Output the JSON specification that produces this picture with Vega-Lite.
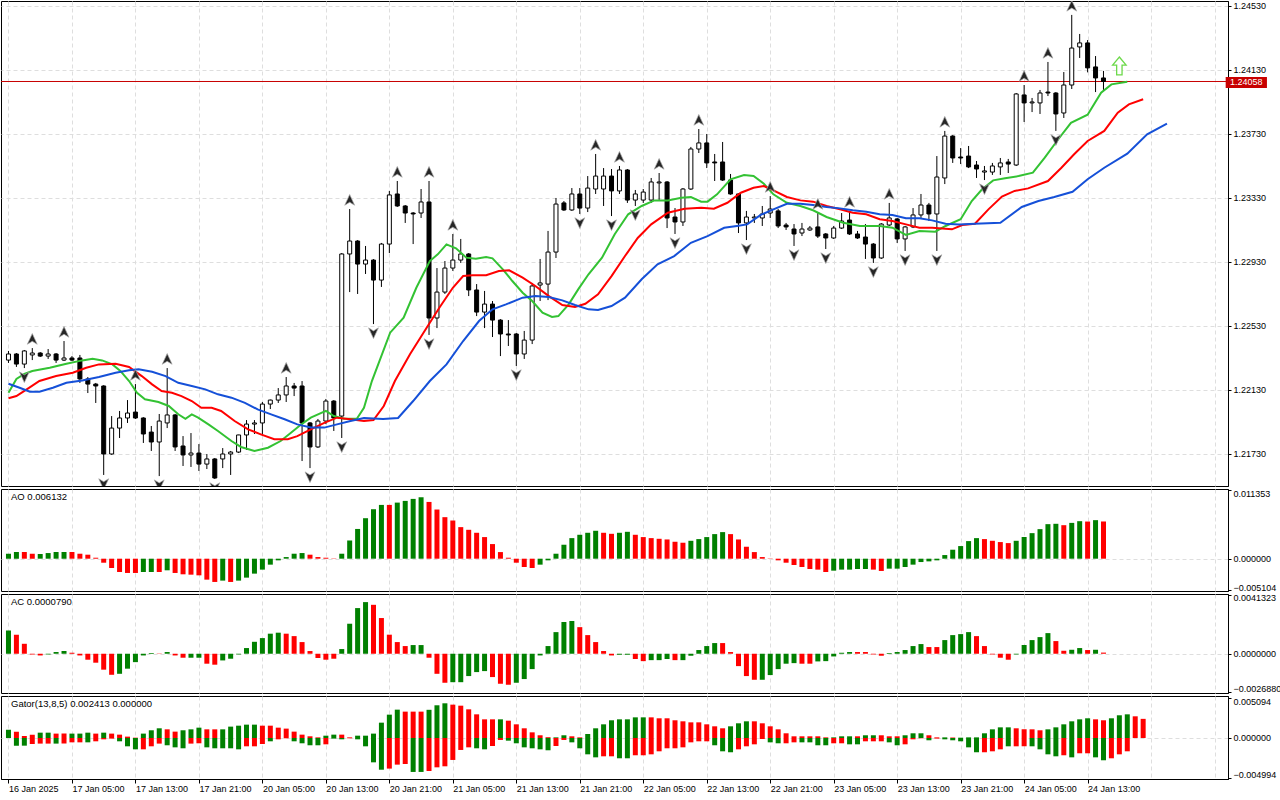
{
  "$schema": "https://vega.github.io/schema/vega-lite/v6.json",
  "padding": 0,
  "background": "white",
  "bounds": "flush",
  "spacing": 3,
  "resolve": {"scale": {"color": "independent"}},
  "config": {
    "font": "Liberation Sans",
    "view": {"stroke": "black", "strokeWidth": 1},
    "axis": {"domainColor": "black", "tickColor": "black", "labelColor": "black", "labelFont": "Liberation Sans", "labelFontSize": 9, "gridColor": "#dedede", "gridDash": [4, 3], "title": null, "tickSize": 3, "labelPadding": 2},
    "text": {"font": "Liberation Sans", "fontSize": 9.5, "color": "black"}
  },
  "datasets": {
    "bars": [
      {"i":0,"o":1.22317,"h":1.22374,"l":1.22299,"c":1.22355},
      {"i":1,"o":1.22355,"h":1.22361,"l":1.22274,"c":1.22292},
      {"i":2,"o":1.22292,"h":1.22380,"l":1.22267,"c":1.22374,"d":1},
      {"i":3,"o":1.22349,"h":1.22392,"l":1.22317,"c":1.22361,"u":1},
      {"i":4,"o":1.22361,"h":1.22367,"l":1.22336,"c":1.22342},
      {"i":5,"o":1.22342,"h":1.22386,"l":1.22324,"c":1.22355},
      {"i":6,"o":1.22355,"h":1.22361,"l":1.22299,"c":1.22317},
      {"i":7,"o":1.22317,"h":1.22436,"l":1.22311,"c":1.22330,"u":1},
      {"i":8,"o":1.22330,"h":1.22342,"l":1.22311,"c":1.22317},
      {"i":9,"o":1.22330,"h":1.22349,"l":1.22174,"c":1.22199},
      {"i":10,"o":1.22199,"h":1.22211,"l":1.22111,"c":1.22167},
      {"i":11,"o":1.22167,"h":1.22174,"l":1.22049,"c":1.22155},
      {"i":12,"o":1.22155,"h":1.22160,"l":1.21599,"c":1.21730,"d":1},
      {"i":13,"o":1.21730,"h":1.21967,"l":1.21725,"c":1.21892},
      {"i":14,"o":1.21892,"h":1.21999,"l":1.21830,"c":1.21955},
      {"i":15,"o":1.21955,"h":1.22067,"l":1.21924,"c":1.21986},
      {"i":16,"o":1.21992,"h":1.22167,"l":1.21949,"c":1.21955,"u":1},
      {"i":17,"o":1.21955,"h":1.21960,"l":1.21799,"c":1.21855},
      {"i":18,"o":1.21867,"h":1.21905,"l":1.21749,"c":1.21805},
      {"i":19,"o":1.21805,"h":1.21980,"l":1.21592,"c":1.21936,"d":1},
      {"i":20,"o":1.21924,"h":1.22267,"l":1.21892,"c":1.21974,"u":1},
      {"i":21,"o":1.21974,"h":1.21980,"l":1.21749,"c":1.21774},
      {"i":22,"o":1.21780,"h":1.21842,"l":1.21655,"c":1.21724},
      {"i":23,"o":1.21724,"h":1.21861,"l":1.21649,"c":1.21736},
      {"i":24,"o":1.21736,"h":1.21792,"l":1.21624,"c":1.21667},
      {"i":25,"o":1.21667,"h":1.21730,"l":1.21636,"c":1.21699},
      {"i":26,"o":1.21699,"h":1.21705,"l":1.21574,"c":1.21580,"d":1},
      {"i":27,"o":1.21699,"h":1.21767,"l":1.21642,"c":1.21730},
      {"i":28,"o":1.21730,"h":1.21749,"l":1.21599,"c":1.21742},
      {"i":29,"o":1.21742,"h":1.21850,"l":1.21736,"c":1.21849},
      {"i":30,"o":1.21849,"h":1.21942,"l":1.21755,"c":1.21917},
      {"i":31,"o":1.21917,"h":1.21942,"l":1.21855,"c":1.21924},
      {"i":32,"o":1.21924,"h":1.22055,"l":1.21855,"c":1.22042},
      {"i":33,"o":1.22042,"h":1.22070,"l":1.22011,"c":1.22067},
      {"i":34,"o":1.22067,"h":1.22142,"l":1.22049,"c":1.22099},
      {"i":35,"o":1.22099,"h":1.22211,"l":1.22055,"c":1.22155,"u":1},
      {"i":36,"o":1.22155,"h":1.22174,"l":1.22092,"c":1.22142},
      {"i":37,"o":1.22155,"h":1.22186,"l":1.21686,"c":1.21924},
      {"i":38,"o":1.21924,"h":1.21930,"l":1.21642,"c":1.21774,"d":1},
      {"i":39,"o":1.21774,"h":1.21949,"l":1.21768,"c":1.21936},
      {"i":40,"o":1.21936,"h":1.22074,"l":1.21917,"c":1.22061},
      {"i":41,"o":1.22061,"h":1.22067,"l":1.21874,"c":1.21955},
      {"i":42,"o":1.21967,"h":1.22986,"l":1.21830,"c":1.22980,"d":1},
      {"i":43,"o":1.22980,"h":1.23261,"l":1.22742,"c":1.23061,"u":1},
      {"i":44,"o":1.23061,"h":1.23067,"l":1.22730,"c":1.22917},
      {"i":45,"o":1.22917,"h":1.23030,"l":1.22855,"c":1.22942},
      {"i":46,"o":1.22942,"h":1.22948,"l":1.22542,"c":1.22817,"d":1},
      {"i":47,"o":1.22817,"h":1.23049,"l":1.22774,"c":1.23042},
      {"i":48,"o":1.23042,"h":1.23374,"l":1.22986,"c":1.23349},
      {"i":49,"o":1.23355,"h":1.23436,"l":1.23274,"c":1.23280,"u":1},
      {"i":50,"o":1.23280,"h":1.23286,"l":1.23174,"c":1.23236},
      {"i":51,"o":1.23236,"h":1.23242,"l":1.23042,"c":1.23230},
      {"i":52,"o":1.23236,"h":1.23386,"l":1.23205,"c":1.23305},
      {"i":53,"o":1.23305,"h":1.23436,"l":1.22474,"c":1.22580,"u":1,"d":1},
      {"i":54,"o":1.22580,"h":1.22892,"l":1.22517,"c":1.22742},
      {"i":55,"o":1.22742,"h":1.22936,"l":1.22730,"c":1.22892},
      {"i":56,"o":1.22892,"h":1.23105,"l":1.22874,"c":1.22942,"u":1},
      {"i":57,"o":1.22942,"h":1.23074,"l":1.22924,"c":1.22980},
      {"i":58,"o":1.22980,"h":1.22986,"l":1.22717,"c":1.22755},
      {"i":59,"o":1.22755,"h":1.22792,"l":1.22592,"c":1.22617},
      {"i":60,"o":1.22617,"h":1.22749,"l":1.22517,"c":1.22667},
      {"i":61,"o":1.22667,"h":1.22686,"l":1.22461,"c":1.22567},
      {"i":62,"o":1.22567,"h":1.22573,"l":1.22342,"c":1.22480},
      {"i":63,"o":1.22480,"h":1.22567,"l":1.22405,"c":1.22474},
      {"i":64,"o":1.22480,"h":1.22486,"l":1.22280,"c":1.22355,"d":1},
      {"i":65,"o":1.22355,"h":1.22499,"l":1.22324,"c":1.22442},
      {"i":66,"o":1.22442,"h":1.22799,"l":1.22417,"c":1.22780},
      {"i":67,"o":1.22786,"h":1.22949,"l":1.22686,"c":1.22799},
      {"i":68,"o":1.22792,"h":1.23124,"l":1.22692,"c":1.22992},
      {"i":69,"o":1.22992,"h":1.23330,"l":1.22955,"c":1.23292},
      {"i":70,"o":1.23299,"h":1.23311,"l":1.23249,"c":1.23255},
      {"i":71,"o":1.23255,"h":1.23392,"l":1.23249,"c":1.23355},
      {"i":72,"o":1.23355,"h":1.23392,"l":1.23230,"c":1.23267,"d":1},
      {"i":73,"o":1.23267,"h":1.23467,"l":1.23242,"c":1.23392},
      {"i":74,"o":1.23386,"h":1.23605,"l":1.23355,"c":1.23467,"u":1},
      {"i":75,"o":1.23386,"h":1.23517,"l":1.23280,"c":1.23467},
      {"i":76,"o":1.23467,"h":1.23511,"l":1.23217,"c":1.23374,"d":1},
      {"i":77,"o":1.23374,"h":1.23530,"l":1.23355,"c":1.23505,"u":1},
      {"i":78,"o":1.23505,"h":1.23511,"l":1.23299,"c":1.23317},
      {"i":79,"o":1.23317,"h":1.23380,"l":1.23280,"c":1.23355,"d":1},
      {"i":80,"o":1.23317,"h":1.23386,"l":1.23299,"c":1.23367},
      {"i":81,"o":1.23317,"h":1.23455,"l":1.23299,"c":1.23430},
      {"i":82,"o":1.23424,"h":1.23486,"l":1.23311,"c":1.23430,"u":1},
      {"i":83,"o":1.23430,"h":1.23436,"l":1.23142,"c":1.23205},
      {"i":84,"o":1.23211,"h":1.23267,"l":1.23105,"c":1.23180,"d":1},
      {"i":85,"o":1.23180,"h":1.23392,"l":1.23155,"c":1.23386},
      {"i":86,"o":1.23386,"h":1.23649,"l":1.23380,"c":1.23636},
      {"i":87,"o":1.23636,"h":1.23761,"l":1.23611,"c":1.23674,"u":1},
      {"i":88,"o":1.23674,"h":1.23730,"l":1.23517,"c":1.23549},
      {"i":89,"o":1.23555,"h":1.23605,"l":1.23436,"c":1.23549},
      {"i":90,"o":1.23555,"h":1.23680,"l":1.23436,"c":1.23442},
      {"i":91,"o":1.23442,"h":1.23480,"l":1.23350,"c":1.23355},
      {"i":92,"o":1.23355,"h":1.23361,"l":1.23111,"c":1.23174},
      {"i":93,"o":1.23174,"h":1.23249,"l":1.23067,"c":1.23211,"d":1},
      {"i":94,"o":1.23205,"h":1.23230,"l":1.23174,"c":1.23211},
      {"i":95,"o":1.23205,"h":1.23280,"l":1.23155,"c":1.23230},
      {"i":96,"o":1.23236,"h":1.23342,"l":1.23205,"c":1.23261,"u":1},
      {"i":97,"o":1.23249,"h":1.23261,"l":1.23142,"c":1.23155},
      {"i":98,"o":1.23161,"h":1.23174,"l":1.23130,"c":1.23149},
      {"i":99,"o":1.23136,"h":1.23167,"l":1.23030,"c":1.23105,"d":1},
      {"i":100,"o":1.23111,"h":1.23174,"l":1.23092,"c":1.23136},
      {"i":101,"o":1.23130,"h":1.23155,"l":1.23124,"c":1.23142},
      {"i":102,"o":1.23149,"h":1.23236,"l":1.23080,"c":1.23092,"u":1},
      {"i":103,"o":1.23105,"h":1.23111,"l":1.23011,"c":1.23080,"d":1},
      {"i":104,"o":1.23080,"h":1.23155,"l":1.23074,"c":1.23142},
      {"i":105,"o":1.23142,"h":1.23236,"l":1.23136,"c":1.23186},
      {"i":106,"o":1.23192,"h":1.23249,"l":1.23099,"c":1.23105,"u":1},
      {"i":107,"o":1.23105,"h":1.23124,"l":1.23074,"c":1.23080},
      {"i":108,"o":1.23086,"h":1.23167,"l":1.22949,"c":1.23042},
      {"i":109,"o":1.23042,"h":1.23048,"l":1.22924,"c":1.22955,"d":1},
      {"i":110,"o":1.22955,"h":1.23173,"l":1.22949,"c":1.23167},
      {"i":111,"o":1.23161,"h":1.23299,"l":1.23155,"c":1.23205,"u":1},
      {"i":112,"o":1.23199,"h":1.23205,"l":1.23049,"c":1.23074},
      {"i":113,"o":1.23074,"h":1.23155,"l":1.22999,"c":1.23149,"d":1},
      {"i":114,"o":1.23149,"h":1.23267,"l":1.23142,"c":1.23224},
      {"i":115,"o":1.23224,"h":1.23355,"l":1.23205,"c":1.23286},
      {"i":116,"o":1.23286,"h":1.23299,"l":1.23186,"c":1.23230},
      {"i":117,"o":1.23230,"h":1.23592,"l":1.22999,"c":1.23461,"d":1},
      {"i":118,"o":1.23455,"h":1.23749,"l":1.23417,"c":1.23717,"u":1},
      {"i":119,"o":1.23717,"h":1.23723,"l":1.23549,"c":1.23580},
      {"i":120,"o":1.23586,"h":1.23642,"l":1.23542,"c":1.23580},
      {"i":121,"o":1.23592,"h":1.23655,"l":1.23517,"c":1.23524},
      {"i":122,"o":1.23536,"h":1.23561,"l":1.23455,"c":1.23511},
      {"i":123,"o":1.23492,"h":1.23530,"l":1.23442,"c":1.23499,"d":1},
      {"i":124,"o":1.23492,"h":1.23549,"l":1.23474,"c":1.23530},
      {"i":125,"o":1.23524,"h":1.23580,"l":1.23474,"c":1.23549},
      {"i":126,"o":1.23555,"h":1.23574,"l":1.23486,"c":1.23542},
      {"i":127,"o":1.23536,"h":1.23986,"l":1.23530,"c":1.23980},
      {"i":128,"o":1.23974,"h":1.24036,"l":1.23805,"c":1.23924,"u":1},
      {"i":129,"o":1.23924,"h":1.23955,"l":1.23867,"c":1.23930},
      {"i":130,"o":1.23924,"h":1.24005,"l":1.23855,"c":1.23986},
      {"i":131,"o":1.23992,"h":1.24180,"l":1.23967,"c":1.23986,"u":1},
      {"i":132,"o":1.23986,"h":1.23992,"l":1.23749,"c":1.23855,"d":1},
      {"i":133,"o":1.23861,"h":1.24117,"l":1.23830,"c":1.24036},
      {"i":134,"o":1.24036,"h":1.24474,"l":1.24011,"c":1.24267,"u":1},
      {"i":135,"o":1.24274,"h":1.24355,"l":1.24205,"c":1.24299},
      {"i":136,"o":1.24299,"h":1.24317,"l":1.24115,"c":1.24143},
      {"i":137,"o":1.24149,"h":1.24217,"l":1.23992,"c":1.24080},
      {"i":138,"o":1.24080,"h":1.24124,"l":1.24005,"c":1.24058}
    ],
    "alligator": [
      {"i":0,"s":"lips","v":1.22113},{"i":1,"s":"lips","v":1.22199},{"i":2,"s":"lips","v":1.2223},{"i":3,"s":"lips","v":1.22249},{"i":5.2,"s":"lips","v":1.22269},{"i":7.3,"s":"lips","v":1.22294},{"i":9.3,"s":"lips","v":1.22315},{"i":10.6,"s":"lips","v":1.22325},{"i":11.8,"s":"lips","v":1.22315},{"i":13.1,"s":"lips","v":1.2229},{"i":14.1,"s":"lips","v":1.22249},{"i":15.2,"s":"lips","v":1.22186},{"i":16.2,"s":"lips","v":1.22113},{"i":17.2,"s":"lips","v":1.22072},{"i":18.9,"s":"lips","v":1.22055},{"i":20.2,"s":"lips","v":1.2203},{"i":21.4,"s":"lips","v":1.21978},{"i":22.3,"s":"lips","v":1.2195},{"i":23.1,"s":"lips","v":1.21978},{"i":23.9,"s":"lips","v":1.21957},{"i":25.2,"s":"lips","v":1.21915},{"i":26.4,"s":"lips","v":1.21874},{"i":28.1,"s":"lips","v":1.21811},{"i":29.3,"s":"lips","v":1.21774},{"i":31,"s":"lips","v":1.21749},{"i":32.7,"s":"lips","v":1.21769},{"i":34.3,"s":"lips","v":1.21811},{"i":35.6,"s":"lips","v":1.21863},{"i":36.8,"s":"lips","v":1.21911},{"i":38.1,"s":"lips","v":1.21957},{"i":40,"s":"lips","v":1.21999},{"i":41,"s":"lips","v":1.21967},{"i":42.3,"s":"lips","v":1.2195},{"i":43.9,"s":"lips","v":1.2195},{"i":44.8,"s":"lips","v":1.22019},{"i":45.8,"s":"lips","v":1.22186},{"i":48.1,"s":"lips","v":1.22488},{"i":49.8,"s":"lips","v":1.22582},{"i":51.4,"s":"lips","v":1.22769},{"i":53.1,"s":"lips","v":1.22936},{"i":54.1,"s":"lips","v":1.22978},{"i":55.2,"s":"lips","v":1.2304},{"i":56.4,"s":"lips","v":1.23015},{"i":57.7,"s":"lips","v":1.22957},{"i":58.9,"s":"lips","v":1.2295},{"i":60.2,"s":"lips","v":1.22961},{"i":61,"s":"lips","v":1.22953},{"i":62.3,"s":"lips","v":1.22884},{"i":63.5,"s":"lips","v":1.22811},{"i":64.8,"s":"lips","v":1.22738},{"i":66,"s":"lips","v":1.22686},{"i":67.3,"s":"lips","v":1.22613},{"i":68.5,"s":"lips","v":1.22586},{"i":69.3,"s":"lips","v":1.22592},{"i":70.6,"s":"lips","v":1.22665},{"i":71.8,"s":"lips","v":1.22759},{"i":73.1,"s":"lips","v":1.22853},{"i":74.8,"s":"lips","v":1.22957},{"i":76.4,"s":"lips","v":1.23103},{"i":78.1,"s":"lips","v":1.23228},{"i":79.8,"s":"lips","v":1.2328},{"i":81.4,"s":"lips","v":1.23315},{"i":83.1,"s":"lips","v":1.23315},{"i":84.8,"s":"lips","v":1.23332},{"i":86,"s":"lips","v":1.23336},{"i":87.3,"s":"lips","v":1.23307},{"i":88.1,"s":"lips","v":1.23307},{"i":89.3,"s":"lips","v":1.23353},{"i":91,"s":"lips","v":1.23447},{"i":92.7,"s":"lips","v":1.23474},{"i":93.9,"s":"lips","v":1.23467},{"i":95.2,"s":"lips","v":1.23419},{"i":96.4,"s":"lips","v":1.23353},{"i":98.1,"s":"lips","v":1.233},{"i":99.8,"s":"lips","v":1.2328},{"i":101.4,"s":"lips","v":1.23253},{"i":103.1,"s":"lips","v":1.23211},{"i":105.2,"s":"lips","v":1.23175},{"i":107.3,"s":"lips","v":1.23155},{"i":109.8,"s":"lips","v":1.23155},{"i":111.4,"s":"lips","v":1.23144},{"i":113.1,"s":"lips","v":1.23099},{"i":114.8,"s":"lips","v":1.23124},{"i":116.8,"s":"lips","v":1.23119},{"i":118.1,"s":"lips","v":1.23155},{"i":120,"s":"lips","v":1.23197},{"i":121.4,"s":"lips","v":1.23311},{"i":122.7,"s":"lips","v":1.23384},{"i":124.1,"s":"lips","v":1.2344},{"i":125.6,"s":"lips","v":1.23453},{"i":127.3,"s":"lips","v":1.23467},{"i":129.1,"s":"lips","v":1.23488},{"i":130.6,"s":"lips","v":1.23582},{"i":132.3,"s":"lips","v":1.23697},{"i":133.9,"s":"lips","v":1.238},{"i":136,"s":"lips","v":1.2385},{"i":137.7,"s":"lips","v":1.23988},{"i":139,"s":"lips","v":1.2404},{"i":141,"s":"lips","v":1.24057},
      {"i":0,"s":"teeth","v":1.22078},{"i":1,"s":"teeth","v":1.22092},{"i":2.3,"s":"teeth","v":1.22134},{"i":3.9,"s":"teeth","v":1.22186},{"i":6,"s":"teeth","v":1.22217},{"i":8.1,"s":"teeth","v":1.22238},{"i":9.8,"s":"teeth","v":1.22269},{"i":11.4,"s":"teeth","v":1.2229},{"i":13.5,"s":"teeth","v":1.22294},{"i":15.2,"s":"teeth","v":1.22274},{"i":16.8,"s":"teeth","v":1.22217},{"i":18.1,"s":"teeth","v":1.22165},{"i":19.3,"s":"teeth","v":1.22124},{"i":20.6,"s":"teeth","v":1.22113},{"i":21.8,"s":"teeth","v":1.22092},{"i":23.1,"s":"teeth","v":1.22061},{"i":24.3,"s":"teeth","v":1.22019},{"i":25.6,"s":"teeth","v":1.22019},{"i":26.8,"s":"teeth","v":1.21999},{"i":28.5,"s":"teeth","v":1.21936},{"i":30.2,"s":"teeth","v":1.21884},{"i":31.8,"s":"teeth","v":1.21853},{"i":33.5,"s":"teeth","v":1.21822},{"i":35.2,"s":"teeth","v":1.21822},{"i":36.4,"s":"teeth","v":1.21842},{"i":38.1,"s":"teeth","v":1.21884},{"i":39.8,"s":"teeth","v":1.21925},{"i":41.4,"s":"teeth","v":1.21957},{"i":43.1,"s":"teeth","v":1.21947},{"i":44.8,"s":"teeth","v":1.21936},{"i":46,"s":"teeth","v":1.21942},{"i":47.3,"s":"teeth","v":1.2203},{"i":48.7,"s":"teeth","v":1.22186},{"i":50.6,"s":"teeth","v":1.22353},{"i":52.7,"s":"teeth","v":1.22519},{"i":54.3,"s":"teeth","v":1.22644},{"i":56,"s":"teeth","v":1.22769},{"i":57.3,"s":"teeth","v":1.22842},{"i":58.5,"s":"teeth","v":1.22847},{"i":60.2,"s":"teeth","v":1.22847},{"i":61.8,"s":"teeth","v":1.22874},{"i":63.1,"s":"teeth","v":1.22878},{"i":64.8,"s":"teeth","v":1.22832},{"i":66.4,"s":"teeth","v":1.2278},{"i":68.1,"s":"teeth","v":1.22717},{"i":69.8,"s":"teeth","v":1.22661},{"i":71.4,"s":"teeth","v":1.22649},{"i":72.7,"s":"teeth","v":1.22669},{"i":74.3,"s":"teeth","v":1.22728},{"i":76,"s":"teeth","v":1.22842},{"i":77.7,"s":"teeth","v":1.22967},{"i":79.3,"s":"teeth","v":1.2308},{"i":81,"s":"teeth","v":1.23165},{"i":83.1,"s":"teeth","v":1.23238},{"i":85.2,"s":"teeth","v":1.23263},{"i":87.3,"s":"teeth","v":1.23269},{"i":88.9,"s":"teeth","v":1.23263},{"i":90.6,"s":"teeth","v":1.233},{"i":92.3,"s":"teeth","v":1.23363},{"i":93.9,"s":"teeth","v":1.23394},{"i":95.2,"s":"teeth","v":1.23405},{"i":96.4,"s":"teeth","v":1.23378},{"i":98.1,"s":"teeth","v":1.23336},{"i":99.8,"s":"teeth","v":1.23315},{"i":101.4,"s":"teeth","v":1.23307},{"i":103.1,"s":"teeth","v":1.2328},{"i":104.8,"s":"teeth","v":1.23259},{"i":106.4,"s":"teeth","v":1.23238},{"i":108.1,"s":"teeth","v":1.23228},{"i":109.8,"s":"teeth","v":1.23197},{"i":111.4,"s":"teeth","v":1.23186},{"i":113.1,"s":"teeth","v":1.23165},{"i":114.8,"s":"teeth","v":1.23144},{"i":116.4,"s":"teeth","v":1.23144},{"i":118.9,"s":"teeth","v":1.23134},{"i":120.2,"s":"teeth","v":1.23161},{"i":121.8,"s":"teeth","v":1.23169},{"i":123.5,"s":"teeth","v":1.23259},{"i":125.2,"s":"teeth","v":1.23339},{"i":126.8,"s":"teeth","v":1.23374},{"i":128.5,"s":"teeth","v":1.2339},{"i":131,"s":"teeth","v":1.23436},{"i":132.7,"s":"teeth","v":1.23519},{"i":134.3,"s":"teeth","v":1.23603},{"i":136,"s":"teeth","v":1.23686},{"i":138.1,"s":"teeth","v":1.23749},{"i":139.8,"s":"teeth","v":1.23863},{"i":141.2,"s":"teeth","v":1.23915},{"i":143,"s":"teeth","v":1.23947},
      {"i":0,"s":"jaw","v":1.22169},{"i":1.4,"s":"jaw","v":1.22144},{"i":2.7,"s":"jaw","v":1.22119},{"i":3.9,"s":"jaw","v":1.22119},{"i":5.6,"s":"jaw","v":1.22144},{"i":7.3,"s":"jaw","v":1.22175},{"i":9.3,"s":"jaw","v":1.2219},{"i":11.4,"s":"jaw","v":1.22211},{"i":13.5,"s":"jaw","v":1.22238},{"i":15.2,"s":"jaw","v":1.22253},{"i":16.4,"s":"jaw","v":1.22259},{"i":18.1,"s":"jaw","v":1.22244},{"i":19.8,"s":"jaw","v":1.22217},{"i":21.4,"s":"jaw","v":1.22175},{"i":23.1,"s":"jaw","v":1.22155},{"i":24.8,"s":"jaw","v":1.22134},{"i":26.4,"s":"jaw","v":1.22103},{"i":28.1,"s":"jaw","v":1.22082},{"i":29.8,"s":"jaw","v":1.2205},{"i":31.4,"s":"jaw","v":1.22009},{"i":33.1,"s":"jaw","v":1.21978},{"i":34.8,"s":"jaw","v":1.21947},{"i":36.4,"s":"jaw","v":1.21915},{"i":38.1,"s":"jaw","v":1.21895},{"i":39.8,"s":"jaw","v":1.21895},{"i":41.4,"s":"jaw","v":1.21915},{"i":43.1,"s":"jaw","v":1.21936},{"i":44.8,"s":"jaw","v":1.21955},{"i":47.2,"s":"jaw","v":1.21949},{"i":49.1,"s":"jaw","v":1.21955},{"i":51,"s":"jaw","v":1.22061},{"i":53.1,"s":"jaw","v":1.22186},{"i":55.2,"s":"jaw","v":1.2229},{"i":57.3,"s":"jaw","v":1.22436},{"i":59.3,"s":"jaw","v":1.22561},{"i":61,"s":"jaw","v":1.22634},{"i":62.7,"s":"jaw","v":1.22665},{"i":64.8,"s":"jaw","v":1.22707},{"i":66.4,"s":"jaw","v":1.22717},{"i":68.1,"s":"jaw","v":1.22711},{"i":69.8,"s":"jaw","v":1.2269},{"i":71.4,"s":"jaw","v":1.22661},{"i":73.1,"s":"jaw","v":1.22634},{"i":74.3,"s":"jaw","v":1.2263},{"i":76,"s":"jaw","v":1.22655},{"i":77.7,"s":"jaw","v":1.22707},{"i":79.8,"s":"jaw","v":1.22822},{"i":81.8,"s":"jaw","v":1.22915},{"i":83.9,"s":"jaw","v":1.22967},{"i":86,"s":"jaw","v":1.2305},{"i":88.1,"s":"jaw","v":1.23092},{"i":90.2,"s":"jaw","v":1.23144},{"i":91.8,"s":"jaw","v":1.23155},{"i":93.1,"s":"jaw","v":1.23165},{"i":94.8,"s":"jaw","v":1.23224},{"i":96.4,"s":"jaw","v":1.23259},{"i":98.1,"s":"jaw","v":1.23294},{"i":99.8,"s":"jaw","v":1.23294},{"i":101.4,"s":"jaw","v":1.23286},{"i":103.1,"s":"jaw","v":1.23274},{"i":104.8,"s":"jaw","v":1.23265},{"i":106.4,"s":"jaw","v":1.23253},{"i":108.1,"s":"jaw","v":1.23244},{"i":109.8,"s":"jaw","v":1.23228},{"i":111.4,"s":"jaw","v":1.23224},{"i":113.1,"s":"jaw","v":1.23203},{"i":114.8,"s":"jaw","v":1.23203},{"i":116.4,"s":"jaw","v":1.2319},{"i":118.1,"s":"jaw","v":1.23169},{"i":119.8,"s":"jaw","v":1.23165},{"i":121.8,"s":"jaw","v":1.23169},{"i":125,"s":"jaw","v":1.23175},{"i":127.7,"s":"jaw","v":1.23274},{"i":129.8,"s":"jaw","v":1.23311},{"i":131.8,"s":"jaw","v":1.23336},{"i":134.1,"s":"jaw","v":1.23369},{"i":136,"s":"jaw","v":1.23447},{"i":138.1,"s":"jaw","v":1.23519},{"i":141,"s":"jaw","v":1.23607},{"i":143.5,"s":"jaw","v":1.23728},{"i":146,"s":"jaw","v":1.23794}
    ],
    "ao": [
      {"i":0,"v":0.00082,"c":"g"},{"i":1,"v":0.0011,"c":"g"},{"i":2,"v":0.0011,"c":"r"},{"i":3,"v":0.00082,"c":"r"},{"i":4,"v":0.00077,"c":"g"},{"i":5,"v":0.00093,"c":"g"},{"i":6,"v":0.0011,"c":"g"},{"i":7,"v":0.0011,"c":"g"},{"i":8,"v":0.0011,"c":"r"},{"i":9,"v":0.00082,"c":"r"},{"i":10,"v":0.00066,"c":"r"},{"i":11,"v":0.00016,"c":"r"},{"i":12,"v":-0.00066,"c":"r"},{"i":13,"v":-0.00153,"c":"r"},{"i":14,"v":-0.00219,"c":"r"},{"i":15,"v":-0.00235,"c":"r"},{"i":16,"v":-0.00235,"c":"r"},{"i":17,"v":-0.00219,"c":"g"},{"i":18,"v":-0.00219,"c":"g"},{"i":19,"v":-0.00219,"c":"r"},{"i":20,"v":-0.00191,"c":"g"},{"i":21,"v":-0.00235,"c":"r"},{"i":22,"v":-0.00257,"c":"r"},{"i":23,"v":-0.00263,"c":"r"},{"i":24,"v":-0.00274,"c":"r"},{"i":25,"v":-0.00345,"c":"r"},{"i":26,"v":-0.00383,"c":"r"},{"i":27,"v":-0.00361,"c":"g"},{"i":28,"v":-0.00383,"c":"r"},{"i":29,"v":-0.00361,"c":"g"},{"i":30,"v":-0.00312,"c":"g"},{"i":31,"v":-0.00246,"c":"g"},{"i":32,"v":-0.0018,"c":"g"},{"i":33,"v":-0.00098,"c":"g"},{"i":34,"v":-0.00027,"c":"g"},{"i":35,"v":0.00027,"c":"g"},{"i":36,"v":0.00082,"c":"g"},{"i":37,"v":0.00093,"c":"g"},{"i":38,"v":0.00066,"c":"r"},{"i":39,"v":0.00027,"c":"r"},{"i":40,"v":0.00016,"c":"r"},{"i":41,"v":0.00005,"c":"r"},{"i":42,"v":0.00082,"c":"g"},{"i":43,"v":0.003,"c":"g"},{"i":44,"v":0.0049,"c":"g"},{"i":45,"v":0.00667,"c":"g"},{"i":46,"v":0.00815,"c":"g"},{"i":47,"v":0.00886,"c":"g"},{"i":48,"v":0.00886,"c":"r"},{"i":49,"v":0.00924,"c":"g"},{"i":50,"v":0.00952,"c":"g"},{"i":51,"v":0.00985,"c":"g"},{"i":52,"v":0.01012,"c":"g"},{"i":53,"v":0.00935,"c":"r"},{"i":54,"v":0.0081,"c":"r"},{"i":55,"v":0.00684,"c":"r"},{"i":56,"v":0.00629,"c":"r"},{"i":57,"v":0.0052,"c":"r"},{"i":58,"v":0.00476,"c":"r"},{"i":59,"v":0.00427,"c":"r"},{"i":60,"v":0.00356,"c":"r"},{"i":61,"v":0.00241,"c":"r"},{"i":62,"v":0.00109,"c":"r"},{"i":63,"v":0.00016,"c":"r"},{"i":64,"v":-0.00066,"c":"r"},{"i":65,"v":-0.00137,"c":"r"},{"i":66,"v":-0.00153,"c":"r"},{"i":67,"v":-0.00098,"c":"g"},{"i":68,"v":-0.00027,"c":"g"},{"i":69,"v":0.00082,"c":"g"},{"i":70,"v":0.0023,"c":"g"},{"i":71,"v":0.00339,"c":"g"},{"i":72,"v":0.00394,"c":"g"},{"i":73,"v":0.00427,"c":"g"},{"i":74,"v":0.0046,"c":"g"},{"i":75,"v":0.00427,"c":"r"},{"i":76,"v":0.0041,"c":"r"},{"i":77,"v":0.00427,"c":"g"},{"i":78,"v":0.00443,"c":"g"},{"i":79,"v":0.00394,"c":"r"},{"i":80,"v":0.00356,"c":"r"},{"i":81,"v":0.00339,"c":"r"},{"i":82,"v":0.00328,"c":"r"},{"i":83,"v":0.00317,"c":"r"},{"i":84,"v":0.00279,"c":"r"},{"i":85,"v":0.00263,"c":"r"},{"i":86,"v":0.00295,"c":"g"},{"i":87,"v":0.00323,"c":"g"},{"i":88,"v":0.00356,"c":"g"},{"i":89,"v":0.00405,"c":"g"},{"i":90,"v":0.00438,"c":"g"},{"i":91,"v":0.00405,"c":"r"},{"i":92,"v":0.00317,"c":"r"},{"i":93,"v":0.00197,"c":"r"},{"i":94,"v":0.00109,"c":"r"},{"i":95,"v":0.00027,"c":"r"},{"i":96,"v":-0.00005,"c":"r"},{"i":97,"v":-0.00027,"c":"r"},{"i":98,"v":-0.00066,"c":"r"},{"i":99,"v":-0.00104,"c":"r"},{"i":100,"v":-0.00137,"c":"r"},{"i":101,"v":-0.0017,"c":"r"},{"i":102,"v":-0.0018,"c":"r"},{"i":103,"v":-0.00219,"c":"r"},{"i":104,"v":-0.00197,"c":"g"},{"i":105,"v":-0.0018,"c":"g"},{"i":106,"v":-0.0018,"c":"g"},{"i":107,"v":-0.0017,"c":"g"},{"i":108,"v":-0.0017,"c":"g"},{"i":109,"v":-0.0018,"c":"r"},{"i":110,"v":-0.00202,"c":"r"},{"i":111,"v":-0.00164,"c":"g"},{"i":112,"v":-0.00164,"c":"g"},{"i":113,"v":-0.00137,"c":"g"},{"i":114,"v":-0.00098,"c":"g"},{"i":115,"v":-0.00055,"c":"g"},{"i":116,"v":-0.00044,"c":"g"},{"i":117,"v":-0.00027,"c":"g"},{"i":118,"v":0.0006,"c":"g"},{"i":119,"v":0.00148,"c":"g"},{"i":120,"v":0.00208,"c":"g"},{"i":121,"v":0.0029,"c":"g"},{"i":122,"v":0.00339,"c":"g"},{"i":123,"v":0.00323,"c":"r"},{"i":124,"v":0.00295,"c":"r"},{"i":125,"v":0.00274,"c":"r"},{"i":126,"v":0.00257,"c":"r"},{"i":127,"v":0.00295,"c":"g"},{"i":128,"v":0.00356,"c":"g"},{"i":129,"v":0.00421,"c":"g"},{"i":130,"v":0.00487,"c":"g"},{"i":131,"v":0.00569,"c":"g"},{"i":132,"v":0.00575,"c":"g"},{"i":133,"v":0.00552,"c":"r"},{"i":134,"v":0.0059,"c":"g"},{"i":135,"v":0.00618,"c":"g"},{"i":136,"v":0.00612,"c":"r"},{"i":137,"v":0.00635,"c":"g"},{"i":138,"v":0.00613,"c":"r"}
    ],
    "ac": [
      {"i":0,"v":0.00164,"c":"g"},{"i":1,"v":0.00134,"c":"r"},{"i":2,"v":0.0007,"c":"r"},{"i":3,"v":-0.00005,"c":"r"},{"i":4,"v":-0.00012,"c":"r"},{"i":5,"v":-0.00005,"c":"g"},{"i":6,"v":0.00012,"c":"g"},{"i":7,"v":0.00019,"c":"g"},{"i":8,"v":0.00007,"c":"r"},{"i":9,"v":-0.00012,"c":"r"},{"i":10,"v":-0.00042,"c":"r"},{"i":11,"v":-0.00063,"c":"r"},{"i":12,"v":-0.00112,"c":"r"},{"i":13,"v":-0.00148,"c":"r"},{"i":14,"v":-0.00141,"c":"g"},{"i":15,"v":-0.00105,"c":"g"},{"i":16,"v":-0.00059,"c":"g"},{"i":17,"v":-0.00012,"c":"g"},{"i":18,"v":0.00005,"c":"g"},{"i":19,"v":0.00002,"c":"r"},{"i":20,"v":0.00012,"c":"g"},{"i":21,"v":-0.00012,"c":"r"},{"i":22,"v":-0.00028,"c":"r"},{"i":23,"v":-0.00028,"c":"g"},{"i":24,"v":-0.00028,"c":"g"},{"i":25,"v":-0.0007,"c":"r"},{"i":26,"v":-0.00077,"c":"r"},{"i":27,"v":-0.00047,"c":"g"},{"i":28,"v":-0.00035,"c":"g"},{"i":29,"v":-0.00005,"c":"g"},{"i":30,"v":0.0004,"c":"g"},{"i":31,"v":0.00084,"c":"g"},{"i":32,"v":0.0011,"c":"g"},{"i":33,"v":0.00141,"c":"g"},{"i":34,"v":0.00148,"c":"g"},{"i":35,"v":0.00141,"c":"r"},{"i":36,"v":0.00124,"c":"r"},{"i":37,"v":0.00082,"c":"r"},{"i":38,"v":0.00019,"c":"r"},{"i":39,"v":-0.0003,"c":"r"},{"i":40,"v":-0.00042,"c":"r"},{"i":41,"v":-0.00035,"c":"r"},{"i":42,"v":0.00033,"c":"g"},{"i":43,"v":0.00211,"c":"g"},{"i":44,"v":0.00321,"c":"g"},{"i":45,"v":0.00363,"c":"g"},{"i":46,"v":0.00344,"c":"r"},{"i":47,"v":0.00251,"c":"r"},{"i":48,"v":0.00134,"c":"r"},{"i":49,"v":0.00082,"c":"r"},{"i":50,"v":0.00054,"c":"r"},{"i":51,"v":0.00061,"c":"g"},{"i":52,"v":0.00061,"c":"g"},{"i":53,"v":-0.00028,"c":"r"},{"i":54,"v":-0.00141,"c":"r"},{"i":55,"v":-0.00204,"c":"r"},{"i":56,"v":-0.002,"c":"g"},{"i":57,"v":-0.002,"c":"g"},{"i":58,"v":-0.00157,"c":"g"},{"i":59,"v":-0.00129,"c":"g"},{"i":60,"v":-0.00122,"c":"g"},{"i":61,"v":-0.00164,"c":"r"},{"i":62,"v":-0.00211,"c":"r"},{"i":63,"v":-0.00218,"c":"r"},{"i":64,"v":-0.00204,"c":"g"},{"i":65,"v":-0.00178,"c":"g"},{"i":66,"v":-0.00108,"c":"g"},{"i":67,"v":-0.00012,"c":"g"},{"i":68,"v":0.00054,"c":"g"},{"i":69,"v":0.00152,"c":"g"},{"i":70,"v":0.00223,"c":"g"},{"i":71,"v":0.0023,"c":"g"},{"i":72,"v":0.00187,"c":"r"},{"i":73,"v":0.00131,"c":"r"},{"i":74,"v":0.00082,"c":"r"},{"i":75,"v":0.00019,"c":"r"},{"i":76,"v":-0.00012,"c":"r"},{"i":77,"v":-0.00007,"c":"g"},{"i":78,"v":-0.00007,"c":"g"},{"i":79,"v":-0.00037,"c":"r"},{"i":80,"v":-0.00052,"c":"r"},{"i":81,"v":-0.00045,"c":"g"},{"i":82,"v":-0.00045,"c":"g"},{"i":83,"v":-0.00037,"c":"g"},{"i":84,"v":-0.00045,"c":"r"},{"i":85,"v":-0.00045,"c":"g"},{"i":86,"v":-0.00014,"c":"g"},{"i":87,"v":0.00026,"c":"g"},{"i":88,"v":0.00054,"c":"g"},{"i":89,"v":0.00075,"c":"g"},{"i":90,"v":0.00075,"c":"r"},{"i":91,"v":0.00012,"c":"r"},{"i":92,"v":-0.00087,"c":"r"},{"i":93,"v":-0.00157,"c":"r"},{"i":94,"v":-0.00183,"c":"r"},{"i":95,"v":-0.00183,"c":"g"},{"i":96,"v":-0.0015,"c":"g"},{"i":97,"v":-0.00108,"c":"g"},{"i":98,"v":-0.0007,"c":"g"},{"i":99,"v":-0.00066,"c":"g"},{"i":100,"v":-0.0007,"c":"r"},{"i":101,"v":-0.0007,"c":"r"},{"i":102,"v":-0.00054,"c":"g"},{"i":103,"v":-0.00052,"c":"g"},{"i":104,"v":-0.00019,"c":"g"},{"i":105,"v":0.00007,"c":"g"},{"i":106,"v":0.00012,"c":"g"},{"i":107,"v":0.00012,"c":"r"},{"i":108,"v":0.00012,"c":"r"},{"i":109,"v":-0.00005,"c":"r"},{"i":110,"v":-0.00014,"c":"r"},{"i":111,"v":0.00005,"c":"g"},{"i":112,"v":0.00012,"c":"g"},{"i":113,"v":0.00026,"c":"g"},{"i":114,"v":0.00054,"c":"g"},{"i":115,"v":0.00068,"c":"g"},{"i":116,"v":0.00047,"c":"r"},{"i":117,"v":0.00047,"c":"r"},{"i":118,"v":0.00096,"c":"g"},{"i":119,"v":0.00131,"c":"g"},{"i":120,"v":0.00138,"c":"g"},{"i":121,"v":0.00152,"c":"g"},{"i":122,"v":0.00124,"c":"r"},{"i":123,"v":0.00054,"c":"r"},{"i":124,"v":-0.00005,"c":"r"},{"i":125,"v":-0.00028,"c":"r"},{"i":126,"v":-0.00042,"c":"r"},{"i":127,"v":-0.00005,"c":"g"},{"i":128,"v":0.00061,"c":"g"},{"i":129,"v":0.00096,"c":"g"},{"i":130,"v":0.00117,"c":"g"},{"i":131,"v":0.00145,"c":"g"},{"i":132,"v":0.00089,"c":"r"},{"i":133,"v":0.00021,"c":"r"},{"i":134,"v":0.00028,"c":"g"},{"i":135,"v":0.0004,"c":"g"},{"i":136,"v":0.00026,"c":"r"},{"i":137,"v":0.00028,"c":"g"},{"i":138,"v":0.00008,"c":"r"}
    ],
    "gator": [
      {"i":0,"v":0.00105,"c":"g"},{"i":1,"v":0.0008,"c":"r"},{"i":2,"v":0.00025,"c":"r"},{"i":3,"v":0.00042,"c":"r"},{"i":4,"v":0.00067,"c":"g"},{"i":5,"v":0.00067,"c":"g"},{"i":6,"v":0.00055,"c":"r"},{"i":7,"v":0.00055,"c":"r"},{"i":8,"v":0.00055,"c":"g"},{"i":9,"v":0.00055,"c":"g"},{"i":10,"v":0.00067,"c":"g"},{"i":11,"v":0.00055,"c":"r"},{"i":12,"v":0.00067,"c":"g"},{"i":13,"v":0.00055,"c":"r"},{"i":14,"v":0.00042,"c":"r"},{"i":15,"v":0.00017,"c":"r"},{"i":16,"v":0.00004,"c":"r"},{"i":17,"v":0.00055,"c":"g"},{"i":18,"v":0.00097,"c":"g"},{"i":19,"v":0.00122,"c":"g"},{"i":20,"v":0.00109,"c":"r"},{"i":21,"v":0.0008,"c":"r"},{"i":22,"v":0.00097,"c":"g"},{"i":23,"v":0.00109,"c":"g"},{"i":24,"v":0.0013,"c":"g"},{"i":25,"v":0.00109,"c":"r"},{"i":26,"v":0.00109,"c":"r"},{"i":27,"v":0.00109,"c":"g"},{"i":28,"v":0.00143,"c":"g"},{"i":29,"v":0.00155,"c":"g"},{"i":30,"v":0.00168,"c":"g"},{"i":31,"v":0.00168,"c":"g"},{"i":32,"v":0.00155,"c":"r"},{"i":33,"v":0.00155,"c":"r"},{"i":34,"v":0.0013,"c":"r"},{"i":35,"v":0.00118,"c":"r"},{"i":36,"v":0.0008,"c":"r"},{"i":37,"v":0.00042,"c":"r"},{"i":38,"v":0.00021,"c":"r"},{"i":39,"v":0.00008,"c":"r"},{"i":40,"v":0.00029,"c":"g"},{"i":41,"v":0.00042,"c":"g"},{"i":42,"v":0.00042,"c":"r"},{"i":43,"v":0.00008,"c":"r"},{"i":44,"v":0.00029,"c":"g"},{"i":45,"v":0.00029,"c":"g"},{"i":46,"v":0.00055,"c":"g"},{"i":47,"v":0.00193,"c":"g"},{"i":48,"v":0.00294,"c":"g"},{"i":49,"v":0.00357,"c":"g"},{"i":50,"v":0.00332,"c":"r"},{"i":51,"v":0.00332,"c":"r"},{"i":52,"v":0.00332,"c":"r"},{"i":53,"v":0.00355,"c":"g"},{"i":54,"v":0.00412,"c":"g"},{"i":55,"v":0.00437,"c":"g"},{"i":56,"v":0.0042,"c":"r"},{"i":57,"v":0.00407,"c":"r"},{"i":58,"v":0.00361,"c":"r"},{"i":59,"v":0.00298,"c":"r"},{"i":60,"v":0.00235,"c":"r"},{"i":61,"v":0.00235,"c":"r"},{"i":62,"v":0.00235,"c":"g"},{"i":63,"v":0.00218,"c":"r"},{"i":64,"v":0.00172,"c":"r"},{"i":65,"v":0.00122,"c":"r"},{"i":66,"v":0.00071,"c":"r"},{"i":67,"v":0.00034,"c":"r"},{"i":68,"v":0.0001,"c":"r"},{"i":69,"v":0.00008,"c":"g"},{"i":70,"v":0.00034,"c":"g"},{"i":71,"v":0.00021,"c":"r"},{"i":72,"v":0.00008,"c":"r"},{"i":73,"v":0.0005,"c":"g"},{"i":74,"v":0.00122,"c":"g"},{"i":75,"v":0.00172,"c":"g"},{"i":76,"v":0.00223,"c":"g"},{"i":77,"v":0.00235,"c":"g"},{"i":78,"v":0.00235,"c":"g"},{"i":79,"v":0.0026,"c":"g"},{"i":80,"v":0.0026,"c":"g"},{"i":81,"v":0.0026,"c":"r"},{"i":82,"v":0.00248,"c":"r"},{"i":83,"v":0.00248,"c":"r"},{"i":84,"v":0.00223,"c":"r"},{"i":85,"v":0.0021,"c":"r"},{"i":86,"v":0.00197,"c":"r"},{"i":87,"v":0.00197,"c":"r"},{"i":88,"v":0.00172,"c":"r"},{"i":89,"v":0.00147,"c":"r"},{"i":90,"v":0.00122,"c":"r"},{"i":91,"v":0.00147,"c":"g"},{"i":92,"v":0.00185,"c":"g"},{"i":93,"v":0.0021,"c":"g"},{"i":94,"v":0.0021,"c":"r"},{"i":95,"v":0.00185,"c":"r"},{"i":96,"v":0.00147,"c":"r"},{"i":97,"v":0.00109,"c":"r"},{"i":98,"v":0.00059,"c":"r"},{"i":99,"v":0.00021,"c":"r"},{"i":100,"v":0.00021,"c":"r"},{"i":101,"v":0.00021,"c":"r"},{"i":102,"v":0.00021,"c":"r"},{"i":103,"v":0.00008,"c":"r"},{"i":104,"v":0.00008,"c":"g"},{"i":105,"v":0.00021,"c":"g"},{"i":106,"v":0.00021,"c":"g"},{"i":107,"v":0.00021,"c":"r"},{"i":108,"v":0.00034,"c":"g"},{"i":109,"v":0.00034,"c":"g"},{"i":110,"v":0.00034,"c":"r"},{"i":111,"v":0.00021,"c":"r"},{"i":112,"v":0.00021,"c":"r"},{"i":113,"v":0.00034,"c":"g"},{"i":114,"v":0.00059,"c":"g"},{"i":115,"v":0.00059,"c":"g"},{"i":116,"v":0.00034,"c":"r"},{"i":117,"v":0.00008,"c":"r"},{"i":118,"v":0.00008,"c":"g"},{"i":119,"v":0.00006,"c":"r"},{"i":120,"v":0.00004,"c":"g"},{"i":121,"v":0.00008,"c":"g"},{"i":122,"v":0.00008,"c":"g"},{"i":123,"v":0.00059,"c":"g"},{"i":124,"v":0.00109,"c":"g"},{"i":125,"v":0.00134,"c":"g"},{"i":126,"v":0.00134,"c":"g"},{"i":127,"v":0.00122,"c":"r"},{"i":128,"v":0.00109,"c":"r"},{"i":129,"v":0.00109,"c":"r"},{"i":130,"v":0.00097,"c":"r"},{"i":131,"v":0.00109,"c":"g"},{"i":132,"v":0.00134,"c":"g"},{"i":133,"v":0.00172,"c":"g"},{"i":134,"v":0.0021,"c":"g"},{"i":135,"v":0.00235,"c":"g"},{"i":136,"v":0.00248,"c":"g"},{"i":137,"v":0.00235,"c":"r"},{"i":138,"v":0.00223,"c":"r"},{"i":139,"v":0.00248,"c":"g"},{"i":140,"v":0.00286,"c":"g"},{"i":141,"v":0.00298,"c":"g"},{"i":142,"v":0.00273,"c":"r"},{"i":143,"v":0.00241,"c":"r"},
      {"i":1,"v":-0.00097,"c":"g"},{"i":2,"v":-0.00097,"c":"g"},{"i":3,"v":-0.00076,"c":"r"},{"i":4,"v":-0.00071,"c":"r"},{"i":5,"v":-0.00071,"c":"r"},{"i":6,"v":-0.00071,"c":"g"},{"i":7,"v":-0.00071,"c":"r"},{"i":8,"v":-0.00055,"c":"r"},{"i":9,"v":-0.00055,"c":"r"},{"i":10,"v":-0.00055,"c":"g"},{"i":11,"v":-0.00042,"c":"r"},{"i":12,"v":-0.00017,"c":"r"},{"i":13,"v":-0.00008,"c":"r"},{"i":14,"v":-0.00042,"c":"g"},{"i":15,"v":-0.00105,"c":"g"},{"i":16,"v":-0.00143,"c":"g"},{"i":17,"v":-0.00143,"c":"r"},{"i":18,"v":-0.00105,"c":"r"},{"i":19,"v":-0.00071,"c":"r"},{"i":20,"v":-0.00092,"c":"g"},{"i":21,"v":-0.00118,"c":"g"},{"i":22,"v":-0.0013,"c":"g"},{"i":23,"v":-0.00071,"c":"r"},{"i":24,"v":-0.00067,"c":"r"},{"i":25,"v":-0.00118,"c":"g"},{"i":26,"v":-0.0013,"c":"g"},{"i":27,"v":-0.0013,"c":"g"},{"i":28,"v":-0.0013,"c":"g"},{"i":29,"v":-0.00143,"c":"g"},{"i":30,"v":-0.00105,"c":"r"},{"i":31,"v":-0.00105,"c":"r"},{"i":32,"v":-0.00076,"c":"r"},{"i":33,"v":-0.00042,"c":"g"},{"i":34,"v":-0.00017,"c":"r"},{"i":35,"v":-0.00004,"c":"r"},{"i":36,"v":-0.00042,"c":"g"},{"i":37,"v":-0.00067,"c":"g"},{"i":38,"v":-0.00092,"c":"g"},{"i":39,"v":-0.00092,"c":"g"},{"i":40,"v":-0.0008,"c":"r"},{"i":41,"v":-0.00008,"c":"g"},{"i":42,"v":-0.00017,"c":"g"},{"i":43,"v":-0.00004,"c":"r"},{"i":44,"v":-0.00017,"c":"g"},{"i":45,"v":-0.00105,"c":"g"},{"i":46,"v":-0.00307,"c":"g"},{"i":47,"v":-0.004,"c":"g"},{"i":48,"v":-0.00386,"c":"r"},{"i":49,"v":-0.00336,"c":"r"},{"i":50,"v":-0.00328,"c":"r"},{"i":51,"v":-0.00428,"c":"g"},{"i":52,"v":-0.00428,"c":"g"},{"i":53,"v":-0.00416,"c":"r"},{"i":54,"v":-0.0037,"c":"r"},{"i":55,"v":-0.00357,"c":"r"},{"i":56,"v":-0.00277,"c":"r"},{"i":57,"v":-0.00151,"c":"r"},{"i":58,"v":-0.00118,"c":"r"},{"i":59,"v":-0.0013,"c":"g"},{"i":60,"v":-0.00143,"c":"g"},{"i":61,"v":-0.00101,"c":"r"},{"i":62,"v":-0.00025,"c":"r"},{"i":63,"v":-0.00034,"c":"g"},{"i":64,"v":-0.00067,"c":"g"},{"i":65,"v":-0.00118,"c":"g"},{"i":66,"v":-0.0013,"c":"g"},{"i":67,"v":-0.00143,"c":"g"},{"i":68,"v":-0.00155,"c":"g"},{"i":69,"v":-0.00101,"c":"r"},{"i":70,"v":-0.00025,"c":"r"},{"i":71,"v":-0.00055,"c":"g"},{"i":72,"v":-0.0013,"c":"g"},{"i":73,"v":-0.00206,"c":"g"},{"i":74,"v":-0.00244,"c":"g"},{"i":75,"v":-0.00231,"c":"r"},{"i":76,"v":-0.00231,"c":"r"},{"i":77,"v":-0.00256,"c":"g"},{"i":78,"v":-0.00256,"c":"g"},{"i":79,"v":-0.00218,"c":"r"},{"i":80,"v":-0.00218,"c":"r"},{"i":81,"v":-0.00206,"c":"r"},{"i":82,"v":-0.00168,"c":"r"},{"i":83,"v":-0.0013,"c":"r"},{"i":84,"v":-0.0013,"c":"r"},{"i":85,"v":-0.00118,"c":"r"},{"i":86,"v":-0.00055,"c":"r"},{"i":87,"v":-0.00042,"c":"r"},{"i":88,"v":-0.00042,"c":"r"},{"i":89,"v":-0.00092,"c":"g"},{"i":90,"v":-0.00168,"c":"g"},{"i":91,"v":-0.0018,"c":"g"},{"i":92,"v":-0.00143,"c":"r"},{"i":93,"v":-0.00105,"c":"r"},{"i":94,"v":-0.0008,"c":"r"},{"i":95,"v":-0.00013,"c":"r"},{"i":96,"v":-0.00055,"c":"g"},{"i":97,"v":-0.00067,"c":"g"},{"i":98,"v":-0.00067,"c":"r"},{"i":99,"v":-0.00055,"c":"r"},{"i":100,"v":-0.00055,"c":"g"},{"i":101,"v":-0.00055,"c":"g"},{"i":102,"v":-0.00092,"c":"g"},{"i":103,"v":-0.00092,"c":"g"},{"i":104,"v":-0.00067,"c":"r"},{"i":105,"v":-0.00067,"c":"r"},{"i":106,"v":-0.0008,"c":"g"},{"i":107,"v":-0.0008,"c":"g"},{"i":108,"v":-0.00042,"c":"r"},{"i":109,"v":-0.00042,"c":"r"},{"i":110,"v":-0.00042,"c":"r"},{"i":111,"v":-0.00055,"c":"g"},{"i":112,"v":-0.00092,"c":"g"},{"i":113,"v":-0.0008,"c":"r"},{"i":114,"v":-0.00017,"c":"r"},{"i":115,"v":-0.00004,"c":"r"},{"i":116,"v":-0.00029,"c":"g"},{"i":117,"v":-0.00008,"c":"r"},{"i":118,"v":-0.00017,"c":"g"},{"i":119,"v":-0.00029,"c":"g"},{"i":120,"v":-0.00042,"c":"g"},{"i":121,"v":-0.00118,"c":"g"},{"i":122,"v":-0.0018,"c":"g"},{"i":123,"v":-0.0018,"c":"r"},{"i":124,"v":-0.00168,"c":"r"},{"i":125,"v":-0.00143,"c":"r"},{"i":126,"v":-0.00105,"c":"g"},{"i":127,"v":-0.00105,"c":"r"},{"i":128,"v":-0.00105,"c":"r"},{"i":129,"v":-0.00105,"c":"g"},{"i":130,"v":-0.00143,"c":"g"},{"i":131,"v":-0.00206,"c":"g"},{"i":132,"v":-0.00231,"c":"g"},{"i":133,"v":-0.00218,"c":"r"},{"i":134,"v":-0.00244,"c":"g"},{"i":135,"v":-0.00193,"c":"r"},{"i":136,"v":-0.00193,"c":"r"},{"i":137,"v":-0.00244,"c":"g"},{"i":138,"v":-0.00281,"c":"g"},{"i":139,"v":-0.00256,"c":"r"},{"i":140,"v":-0.00206,"c":"r"},{"i":141,"v":-0.00168,"c":"r"}
    ],
    "last": [{"p": 1.24058, "lo": 1.24017, "hi": 1.24086, "x0": 153.4, "x1": 158.6, "xm": 156.0, "label": "1.24058"}],
    "signal": [{"i": 140, "p": 1.24155}]
  },
  "vconcat": [
    {
      "width": 1227,
      "height": 485,
      "layer": [
        {
          "data": {"name": "last"},
          "mark": {"type": "rule", "color": "#c80000", "strokeWidth": 1},
          "encoding": {"y": {"field": "p", "type": "quantitative", "scale": {"domain": [1.2153, 1.24561], "nice": false, "zero": false}}}
        },
        {
          "data": {"name": "bars"},
          "mark": {"type": "rule", "color": "black", "strokeWidth": 1},
          "encoding": {
            "x": {"field": "i", "type": "quantitative", "scale": {"domain": [-0.3125, 153.0625], "nice": false, "zero": false},
              "axis": {"values": [0,4,8,12,16,20,24,28,32,36,40,44,48,52,56,60,64,68,72,76,80,84,88,92,96,100,104,108,112,116,120,124,128,132,136,140,144,148,152], "labels": false, "ticks": false, "domain": false, "grid": true}},
            "y": {"field": "l", "type": "quantitative", "scale": {"domain": [1.2153, 1.24561], "nice": false, "zero": false},
              "axis": {"orient": "right", "values": [1.2173,1.2193,1.2213,1.2233,1.2253,1.2273,1.2293,1.2313,1.2333,1.2353,1.2373,1.2393,1.2413,1.2433,1.2453], "format": ".5f", "grid": true, "labelFlush": false}},
            "y2": {"field": "h"}
          }
        },
        {
          "data": {"name": "bars"},
          "mark": {"type": "bar", "width": 4, "stroke": "black", "strokeWidth": 1},
          "encoding": {
            "x": {"field": "i", "type": "quantitative"},
            "y": {"field": "o", "type": "quantitative"},
            "y2": {"field": "c"},
            "fill": {"condition": {"test": "datum.c >= datum.o", "value": "white"}, "value": "black"}
          }
        },
        {
          "data": {"name": "alligator"},
          "mark": {"type": "line", "strokeWidth": 2, "clip": true},
          "encoding": {
            "x": {"field": "i", "type": "quantitative"},
            "y": {"field": "v", "type": "quantitative"},
            "color": {"field": "s", "type": "nominal", "scale": {"domain": ["jaw", "teeth", "lips"], "range": ["#1550d8", "#ff0000", "#33c233"]}, "legend": null},
            "order": {"field": "i", "type": "quantitative"}
          }
        },
        {
          "data": {"name": "bars"},
          "transform": [{"filter": "datum.u === 1"}],
          "mark": {"type": "point", "shape": "M0,-1L0.9,0.95L0,0.4L-0.9,0.95Z", "filled": true, "fill": "#262626", "stroke": "#a8a8a8", "strokeWidth": 0.7, "size": 120, "opacity": 1, "clip": true},
          "encoding": {
            "x": {"field": "i", "type": "quantitative"},
            "y": {"field": "h", "type": "quantitative"},
            "yOffset": {"value": -9}
          }
        },
        {
          "data": {"name": "bars"},
          "transform": [{"filter": "datum.d === 1"}],
          "mark": {"type": "point", "shape": "M0,1L0.9,-0.95L0,-0.4L-0.9,-0.95Z", "filled": true, "fill": "#262626", "stroke": "#a8a8a8", "strokeWidth": 0.7, "size": 120, "opacity": 1, "clip": true},
          "encoding": {
            "x": {"field": "i", "type": "quantitative"},
            "y": {"field": "l", "type": "quantitative"},
            "yOffset": {"value": 9}
          }
        },
        {
          "data": {"name": "signal"},
          "mark": {"type": "point", "shape": "M0,-1L0.75,-0.1L0.3,-0.1L0.3,1L-0.3,1L-0.3,-0.1L-0.75,-0.1Z", "filled": true, "fill": "white", "stroke": "#6cd94a", "strokeWidth": 1.3, "size": 324, "opacity": 1},
          "encoding": {
            "x": {"field": "i", "type": "quantitative"},
            "y": {"field": "p", "type": "quantitative"}
          }
        },
        {
          "data": {"name": "last"},
          "mark": {"type": "rect", "color": "#c80000"},
          "encoding": {
            "x": {"field": "x0", "type": "quantitative"},
            "x2": {"field": "x1"},
            "y": {"field": "lo", "type": "quantitative"},
            "y2": {"field": "hi"}
          }
        },
        {
          "data": {"name": "last"},
          "mark": {"type": "text", "color": "white", "align": "center", "baseline": "middle", "fontSize": 9, "dy": 0.5},
          "encoding": {
            "x": {"field": "xm", "type": "quantitative"},
            "y": {"field": "p", "type": "quantitative"},
            "text": {"field": "label"}
          }
        }
      ]
    },
    {
      "width": 1227,
      "height": 102,
      "layer": [
        {
          "data": {"name": "ao"},
          "mark": {"type": "bar", "width": 5},
          "encoding": {
            "x": {"field": "i", "type": "quantitative", "scale": {"domain": [-0.3125, 153.0625], "nice": false, "zero": false},
              "axis": {"values": [0,4,8,12,16,20,24,28,32,36,40,44,48,52,56,60,64,68,72,76,80,84,88,92,96,100,104,108,112,116,120,124,128,132,136,140,144,148,152], "labels": false, "ticks": false, "domain": false, "grid": true}},
            "y": {"field": "v", "type": "quantitative", "scale": {"domain": [-0.00532, 0.01148], "nice": false, "zero": false},
              "axis": {"orient": "right", "values": [-0.005104, 0, 0.011353], "format": ".6f", "labelFlush": false, "labelBaseline": "middle",
                "labelOffset": {"condition": [{"test": "datum.value > 0", "value": 3.5}, {"test": "datum.value < 0", "value": -2.5}], "value": 0},
                "grid": true, "gridOpacity": {"condition": {"test": "datum.value === 0", "value": 1}, "value": 0}}},
            "y2": {"datum": 0},
            "color": {"field": "c", "type": "nominal", "scale": {"domain": ["g", "r"], "range": ["#008000", "#ff0000"]}, "legend": null}
          }
        },
        {
          "data": {"values": [{"t": "AO 0.006132", "x": -0.3125, "y": 0.01148}]},
          "mark": {"type": "text", "align": "left", "baseline": "top", "dx": 5, "dy": 3},
          "encoding": {"x": {"field": "x", "type": "quantitative"}, "y": {"field": "y", "type": "quantitative"}, "text": {"field": "t"}}
        }
      ]
    },
    {
      "width": 1227,
      "height": 99,
      "layer": [
        {
          "data": {"name": "ac"},
          "mark": {"type": "bar", "width": 5},
          "encoding": {
            "x": {"field": "i", "type": "quantitative", "scale": {"domain": [-0.3125, 153.0625], "nice": false, "zero": false},
              "axis": {"values": [0,4,8,12,16,20,24,28,32,36,40,44,48,52,56,60,64,68,72,76,80,84,88,92,96,100,104,108,112,116,120,124,128,132,136,140,144,148,152], "labels": false, "ticks": false, "domain": false, "grid": true}},
            "y": {"field": "v", "type": "quantitative", "scale": {"domain": [-0.00276, 0.0042], "nice": false, "zero": false},
              "axis": {"orient": "right", "values": [-0.002688, 0, 0.0041323], "format": ".7f", "labelFlush": false, "labelBaseline": "middle",
                "labelOffset": {"condition": [{"test": "datum.value > 0", "value": 3}, {"test": "datum.value < 0", "value": -3}], "value": 0},
                "grid": true, "gridOpacity": {"condition": {"test": "datum.value === 0", "value": 1}, "value": 0}}},
            "y2": {"datum": 0},
            "color": {"field": "c", "type": "nominal", "scale": {"domain": ["g", "r"], "range": ["#008000", "#ff0000"]}, "legend": null}
          }
        },
        {
          "data": {"values": [{"t": "AC 0.0000790", "x": -0.3125, "y": 0.0042}]},
          "mark": {"type": "text", "align": "left", "baseline": "top", "dx": 5, "dy": 3},
          "encoding": {"x": {"field": "x", "type": "quantitative"}, "y": {"field": "y", "type": "quantitative"}, "text": {"field": "t"}}
        }
      ]
    },
    {
      "width": 1227,
      "height": 83,
      "layer": [
        {
          "data": {"name": "gator"},
          "mark": {"type": "bar", "width": 5},
          "encoding": {
            "x": {"field": "i", "type": "quantitative", "scale": {"domain": [-0.3125, 153.0625], "nice": false, "zero": false},
              "axis": {"values": [0,4,8,12,16,20,24,28,32,36,40,44,48,52,56,60,64,68,72,76,80,84,88,92,96,100,104,108,112,116,120,124,128,132,136,140,144,148,152],
                "labelExpr": "datum.value % 8 === 0 && datum.value <= 136 ? ['16 Jan 2025','17 Jan 05:00','17 Jan 13:00','17 Jan 21:00','20 Jan 05:00','20 Jan 13:00','20 Jan 21:00','21 Jan 05:00','21 Jan 13:00','21 Jan 21:00','22 Jan 05:00','22 Jan 13:00','22 Jan 21:00','23 Jan 05:00','23 Jan 13:00','23 Jan 21:00','24 Jan 05:00','24 Jan 13:00'][datum.value / 8] : ''",
                "labelAlign": "left", "labelBaseline": "top", "labelPadding": 1, "labelFlush": false, "labelOverlap": false, "tickSize": 4,
                "tickOpacity": {"condition": {"test": "datum.value % 8 === 0 && datum.value <= 136", "value": 1}, "value": 0},
                "grid": true, "domain": true}},
            "y": {"field": "v", "type": "quantitative", "scale": {"domain": [-0.00517, 0.00529], "nice": false, "zero": false},
              "axis": {"orient": "right", "values": [-0.004994, 0, 0.005094], "format": ".6f", "labelFlush": false, "labelBaseline": "middle",
                "labelOffset": {"condition": [{"test": "datum.value > 0", "value": 3.5}, {"test": "datum.value < 0", "value": -3.5}], "value": 0},
                "grid": true, "gridOpacity": {"condition": {"test": "datum.value === 0", "value": 1}, "value": 0}}},
            "y2": {"datum": 0},
            "color": {"field": "c", "type": "nominal", "scale": {"domain": ["g", "r"], "range": ["#008000", "#ff0000"]}, "legend": null}
          }
        },
        {
          "data": {"values": [{"t": "Gator(13,8,5) 0.002413 0.000000", "x": -0.3125, "y": 0.00529}]},
          "mark": {"type": "text", "align": "left", "baseline": "top", "dx": 5, "dy": 3},
          "encoding": {"x": {"field": "x", "type": "quantitative"}, "y": {"field": "y", "type": "quantitative"}, "text": {"field": "t"}}
        }
      ]
    }
  ]
}
